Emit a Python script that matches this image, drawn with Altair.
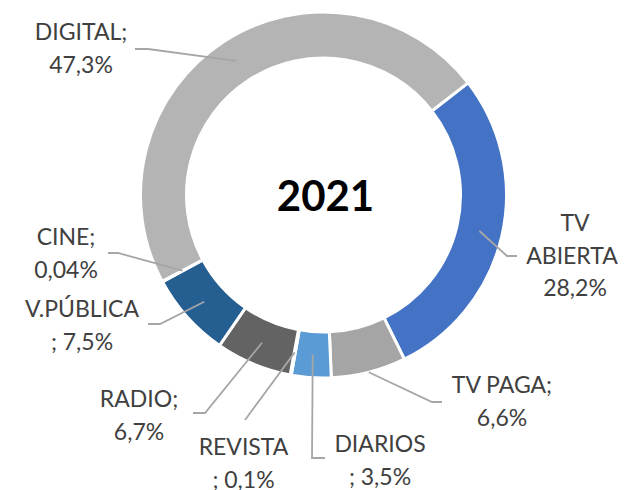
import math
import altair as alt
import pandas as pd

# ---- data ----
categories = ["TV ABIERTA", "TV PAGA", "DIARIOS", "REVISTA", "RADIO", "V.PÚBLICA", "CINE", "DIGITAL"]
shares = [28.2, 6.6, 3.5, 0.1, 6.7, 7.5, 0.04, 47.3]
center_title = "2021"

# ---- styles ----
colors = ["#4472C4", "#A5A5A5", "#5B9BD5", "#FFC000", "#636363", "#255E91", "#9E480E", "#B4B4B4"]
label_templates = ["{ns};\n{v}", "{n};\n{v}", "{n}\n; {v}", "{n}\n; {v}",
                   "{n};\n{v}", "{n}\n; {v}", "{n};\n{v}", "{n};\n{v}"]

# ---- layout (page pixels) ----
W, H = 610, 482
OFF = 8
CX, CY = 323.5, 195.0
R_IN, R_OUT = 137, 183
START_DEG = 52.2
label_x = [575, 502, 380, 243.5, 139, 82, 66, 81]
label_y = [224, 386, 445, 448, 400, 310, 238, 33]   # centre of first line
lead_x1 = [517, 442, 325, 245, 193, 148, 108, 135]
lead_y1 = [256, 402, 458, 420, 413, 324, 253, 49]
lead_x2 = [507, 432, 312, 245, 205, 160, 118, 148]
lead_y2 = [256, 402, 458, 420, 413, 324, 253, 49]
lead_r = [160, 183, 160, 160, 160, 160, 160, 160]


def fmt(v):
    return (str(v)).replace(".", ",") + "%"


df = pd.DataFrame({"cat": categories, "share": shares, "idx": list(range(len(categories)))})
df["label"] = [
    t.format(n=c, ns=c.replace(" ", "\n"), v=fmt(v))
    for t, c, v in zip(label_templates, categories, shares)
]
df["lx"] = label_x
df["ly"] = label_y

# leader lines: end point at slice middle angle
total = sum(shares)
rows = []
cum = 0.0
for i, (c, v) in enumerate(zip(categories, shares)):
    mid = math.radians(START_DEG) + 2 * math.pi * (cum + v / 2) / total
    cum += v
    ex = CX + lead_r[i] * math.sin(mid)
    ey = CY - lead_r[i] * math.cos(mid)
    rows += [
        {"cat": c, "o": 0, "x": lead_x1[i], "y": lead_y1[i]},
        {"cat": c, "o": 1, "x": lead_x2[i], "y": lead_y2[i]},
        {"cat": c, "o": 2, "x": ex, "y": ey},
    ]
lines = pd.DataFrame(rows)

xs = alt.Scale(domain=[OFF, OFF + W], range=[0, W])
ys = alt.Scale(domain=[OFF, OFF + H], range=[0, H])

start = math.radians(START_DEG)
arcs = alt.Chart(df).mark_arc(
    innerRadius=R_IN, outerRadius=R_OUT, stroke="white", strokeWidth=3,
    x=CX - OFF, y=CY - OFF,
).encode(
    theta=alt.Theta("share:Q", stack=True, scale=alt.Scale(range=[start, start + 2 * math.pi])),
    order=alt.Order("idx:Q"),
    color=alt.Color("cat:N", scale=alt.Scale(domain=categories, range=colors), legend=None),
)

leaders = alt.Chart(lines).mark_line(color="#A6A6A6", strokeWidth=1.8).encode(
    x=alt.X("x:Q", scale=xs, axis=None),
    y=alt.Y("y:Q", scale=ys, axis=None),
    detail="cat:N",
    order="o:Q",
)

labels = alt.Chart(df).mark_text(
    font="Lato", fontSize=23, color="#404040", lineBreak="\n", lineHeight=32.5,
    align="center", baseline="middle",
).encode(
    x=alt.X("lx:Q", scale=xs, axis=None),
    y=alt.Y("ly:Q", scale=ys, axis=None),
    text="label:N",
)

title_df = pd.DataFrame({"t": [center_title], "x": [325.5], "y": [198]})
title = alt.Chart(title_df).mark_text(
    font="Lato", fontSize=42, fontWeight="bold", color="#000000",
    align="center", baseline="middle",
).encode(
    x=alt.X("x:Q", scale=xs, axis=None),
    y=alt.Y("y:Q", scale=ys, axis=None),
    text="t:N",
)

chart = alt.layer(arcs, leaders, labels, title).properties(
    width=W, height=H, padding=0, autosize=alt.AutoSizeParams(type="none"),
).configure_view(stroke=None)

chart.save("out.html", embed_options={"renderer": "svg", "actions": False})
